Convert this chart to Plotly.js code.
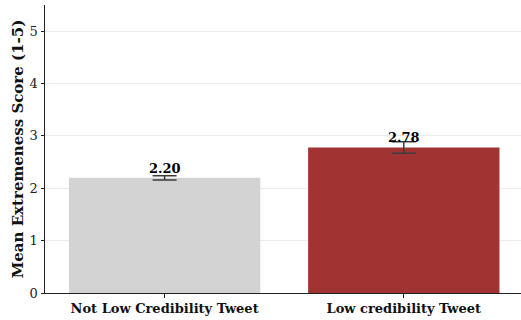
<!DOCTYPE html>
<html>
<head>
<meta charset="utf-8">
<script src="https://cdn.plot.ly/plotly-3.0.1.min.js"></script>
<style>
  html, body { margin: 0; padding: 0; background: #fff; }
  #chart { width: 521px; height: 320px; }
</style>
</head>
<body>
<div id="chart"></div>
<script>
// Mean extremeness score by tweet credibility group
const categories = ['Not Low Credibility Tweet', 'Low credibility Tweet'];
const meanScores = [2.20, 2.78];
const errors = [0.04, 0.11];
const barColors = ['#d3d3d3', '#a23333'];

const serif = '"DejaVu Serif", serif';

const trace = {
  type: 'bar',
  x: categories,
  y: meanScores,
  width: 0.8,
  marker: { color: barColors, line: { width: 0 } },
  error_y: {
    type: 'data',
    array: errors,
    visible: true,
    color: '#3c3c3c',
    thickness: 1.5,
    width: 12
  },
  hoverinfo: 'skip'
};

// Value labels sit a few pixels above each bar top
const annotations = categories.map((c, i) => ({
  x: c,
  y: meanScores[i],
  text: '<b>' + meanScores[i].toFixed(2) + '</b>',
  showarrow: false,
  xanchor: 'center',
  yanchor: 'bottom',
  yshift: 0,
  font: { family: serif, size: 13, color: '#000' }
}));

const layout = {
  width: 521,
  height: 320,
  margin: { l: 45, r: 0, t: 5, b: 27 },
  paper_bgcolor: '#fff',
  plot_bgcolor: '#fff',
  showlegend: false,
  bargap: 0.2,
  xaxis: {
    type: 'category',
    range: [-0.5, 1.49],
    showline: true,
    linecolor: '#222',
    linewidth: 1,
    ticks: 'outside',
    ticklen: 3.5,
    tickcolor: '#222',
    showgrid: false,
    zeroline: false,
    tickfont: { family: serif, size: 13, color: '#111', weight: 'bold' }
  },
  yaxis: {
    range: [0, 5.5],
    tickvals: [0, 1, 2, 3, 4, 5],
    showline: true,
    linecolor: '#222',
    linewidth: 1,
    ticks: 'outside',
    ticklen: 3.5,
    tickcolor: '#222',
    showgrid: true,
    gridcolor: '#ebebeb',
    gridwidth: 1,
    zeroline: false,
    tickfont: { family: serif, size: 13, color: '#222' },
    title: {
      text: '<b>Mean Extremeness Score (1-5)</b>',
      font: { family: serif, size: 15, color: '#111' },
      standoff: 2
    }
  },
  annotations: annotations
};

Plotly.newPlot('chart', [trace], layout, { displayModeBar: false, staticPlot: true });
</script>
</body>
</html>
